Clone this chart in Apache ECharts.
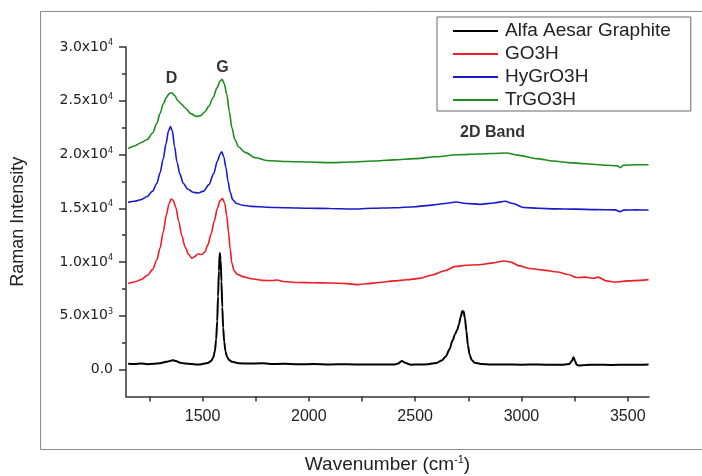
<!DOCTYPE html>
<html>
<head>
<meta charset="utf-8">
<script src="https://cdn.jsdelivr.net/npm/echarts@6/dist/echarts.min.js"></script>
<style>
html, body { margin: 0; padding: 0; background: #fff; }
#chart { width: 702px; height: 476px; }
</style>
</head>
<body>
<div id="chart"></div>
<script>
// spectra: [wavenumber, intensity]
var graphite = [[1150,540],[1180,520],[1210,560],[1240,510],[1270,540],[1300,600],[1330,720],[1350,820],[1362,860],[1375,800],[1395,650],[1420,560],[1450,520],[1470,470],[1490,480],[1510,560],[1525,620],[1540,800],[1550,1100],[1558,1700],[1564,2800],[1569,4500],[1573,6800],[1577,9200],[1581,10850],[1585,10200],[1589,8200],[1593,5800],[1597,3900],[1602,2600],[1608,1700],[1615,1200],[1625,900],[1640,720],[1670,600],[1720,560],[1780,600],[1820,520],[1880,540],[1950,500],[2020,520],[2100,480],[2180,500],[2260,470],[2330,480],[2400,470],[2420,560],[2437,800],[2455,620],[2480,460],[2520,470],[2560,500],[2600,620],[2625,850],[2645,1250],[2662,1900],[2676,2700],[2688,3300],[2698,3700],[2706,4200],[2714,4900],[2722,5450],[2728,5400],[2734,4800],[2741,3600],[2748,2300],[2756,1400],[2766,900],[2780,650],[2810,520],[2860,470],[2920,480],[3000,460],[3080,470],[3150,450],[3200,460],[3225,520],[3237,800],[3245,1150],[3252,800],[3260,450],[3270,380],[3300,440],[3360,450],[3420,440],[3500,460],[3560,450],[3598,470]];

var go3h = [[1150,8000],[1180,8150],[1210,8350],[1240,8750],[1265,9300],[1285,10200],[1300,11300],[1315,12800],[1330,14400],[1342,15400],[1352,15850],[1362,15750],[1374,15100],[1388,13800],[1402,12500],[1418,11400],[1435,10700],[1450,10350],[1462,10500],[1478,10750],[1495,10700],[1510,10900],[1525,11600],[1540,12600],[1555,13800],[1570,15000],[1582,15700],[1594,15900],[1604,15500],[1614,14300],[1622,12800],[1630,11200],[1638,9900],[1648,9200],[1665,8850],[1690,8650],[1730,8450],[1780,8300],[1830,8280],[1850,8330],[1880,8200],[1950,8100],[2020,8080],[2100,8050],[2180,8000],[2230,7900],[2270,7980],[2330,8100],[2400,8250],[2460,8350],[2520,8480],[2580,8800],[2640,9200],[2690,9600],[2740,9700],[2800,9750],[2860,9900],[2920,10100],[2950,10000],[2990,9650],[3040,9400],[3100,9250],[3170,9080],[3220,8850],[3260,8560],[3300,8600],[3340,8500],[3360,8600],[3400,8250],[3440,8150],[3500,8250],[3560,8300],[3598,8370]];

var hygro3h = [[1150,15550],[1180,15650],[1210,15800],[1240,16100],[1265,16600],[1285,17300],[1300,18300],[1315,19600],[1328,21000],[1340,22200],[1349,22600],[1358,22200],[1368,20800],[1380,19300],[1393,18200],[1410,17300],[1430,16800],[1455,16500],[1480,16420],[1505,16600],[1530,17200],[1552,18200],[1570,19400],[1582,20000],[1590,20250],[1600,19800],[1610,18800],[1620,17500],[1630,16500],[1642,15800],[1660,15450],[1690,15280],[1730,15180],[1800,15100],[1900,15050],[2000,15000],[2100,14980],[2200,14930],[2300,15000],[2400,15050],[2500,15150],[2580,15300],[2640,15450],[2693,15590],[2740,15450],[2806,15370],[2870,15500],[2924,15650],[2960,15450],[3010,15080],[3080,15000],[3160,14950],[3250,14920],[3350,14880],[3440,14850],[3465,14690],[3480,14830],[3540,14850],[3598,14840]];

var trgo3h = [[1150,20550],[1180,20800],[1210,21100],[1240,21400],[1265,22000],[1285,22900],[1300,23800],[1315,24700],[1330,25300],[1342,25650],[1355,25750],[1368,25500],[1385,25000],[1400,24700],[1420,24300],[1445,23800],[1470,23550],[1490,23600],[1510,23950],[1530,24500],[1550,25300],[1568,26200],[1582,26800],[1592,27000],[1602,26600],[1614,25600],[1626,24000],[1638,22500],[1652,21400],[1670,20700],[1700,20200],[1750,19700],[1800,19450],[1900,19350],[2000,19300],[2100,19250],[2200,19300],[2300,19400],[2400,19500],[2500,19620],[2600,19800],[2700,19980],[2800,20050],[2860,20100],[2930,20150],[2980,19950],[3070,19620],[3150,19400],[3220,19250],[3300,19150],[3400,19000],[3450,18950],[3465,18780],[3480,19000],[3540,19050],[3598,19050]];

var seriesNames = ['Alfa Aesar Graphite', 'GO3H', 'HyGrO3H', 'TrGO3H'];
var seriesColors = ['#000000', '#ee1c25', '#1a1acc', '#1e8c1e'];

var xTicks = [1250, 1500, 1750, 2000, 2250, 2500, 2750, 3000, 3250, 3500];
var xLabels = [1500, 2000, 2500, 3000, 3500];
var yLabels = [0, 5000, 10000, 15000, 20000, 25000, 30000];
var yMinorTicks = [2500, 7500, 12500, 17500, 22500, 27500];

// band labels: [wavenumber, intensity, text]
var bandLabels = [[1354, 27100, 'D'], [1594, 28100, 'G'], [2864, 22000, '2D Band']];

var axisColor = '#333';
var textColor = '#222';

function sciLabel(v) {
    if (v === 0) return '{m|0.0}';
    var e = Math.floor(Math.log10(v));
    var m = (v / Math.pow(10, e)).toFixed(1);
    return '{m|' + m + 'x10}{e|' + e + '}';
}

var spectra = [graphite, go3h, hygro3h, trgo3h];
var series = spectra.map(function(d, i) {
    return {
        name: seriesNames[i],
        type: 'line',
        data: d,
        showSymbol: false,
        symbol: 'none',
        smooth: 0.3,
        smoothMonotone: 'x',
        color: seriesColors[i],
        lineStyle: { width: i === 0 ? 2 : 1.6, color: seriesColors[i] }
    };
});

series.push({
    type: 'scatter',
    silent: true,
    symbolSize: 0,
    data: bandLabels.map(function(b) { return { value: [b[0], b[1]], name: b[2] }; }),
    label: {
        show: true,
        position: 'inside',
        formatter: '{b}',
        color: '#000',
        fontWeight: 'bold',
        fontSize: 16,
        fontFamily: 'Liberation Sans'
    }
});

var option = {
    animation: false,
    backgroundColor: '#fff',
    graphic: [{
        type: 'rect',
        shape: { x: 40.5, y: 11.5, width: 700, height: 438 },
        style: { fill: 'none', stroke: '#8c8c8c', lineWidth: 1 },
        z: 0
    }],
    legend: {
        data: seriesNames,
        orient: 'vertical',
        left: 437,
        top: 17,
        padding: [4, 20, 1, 16],
        itemGap: 3,
        itemWidth: 45,
        itemHeight: 2,
        icon: 'rect',
        borderColor: '#666',
        borderWidth: 1,
        textStyle: {
            fontSize: 19,
            lineHeight: 20,
            color: textColor,
            fontFamily: 'Liberation Sans',
            padding: [0, 0, 0, 2]
        }
    },
    grid: { left: 126, top: 47, right: 53, bottom: 79.5, containLabel: false, outerBoundsMode: 'none' },
    xAxis: {
        type: 'value',
        min: 1140,
        max: 3600,
        name: '{a|Wavenumber (cm}{s|-1}{a|)}',
        nameLocation: 'middle',
        nameGap: 58,
        nameTextStyle: {
            rich: {
                a: { fontSize: 19, fontFamily: 'Liberation Sans', color: textColor },
                s: { fontSize: 11, fontFamily: 'Liberation Sans', color: textColor, padding: [0, 0, 10, 0] }
            }
        },
        axisLine: { onZero: false, lineStyle: { color: axisColor, width: 1.5 } },
        axisTick: { customValues: xTicks, length: 5, lineStyle: { color: axisColor, width: 1.5 } },
        axisLabel: {
            customValues: xLabels,
            formatter: function(v) { return String(v); },
            fontSize: 16,
            margin: 12,
            color: textColor,
            fontFamily: 'Liberation Sans'
        },
        splitLine: { show: false }
    },
    yAxis: [{
        type: 'value',
        position: 'left',
        min: -2500,
        max: 30000,
        name: 'Raman Intensity',
        nameLocation: 'middle',
        nameGap: 99,
        nameTextStyle: { fontSize: 18, fontFamily: 'Liberation Sans', color: textColor },
        axisLine: { show: true, onZero: false, lineStyle: { color: axisColor, width: 1.5 } },
        axisTick: { customValues: yLabels, length: 7, lineStyle: { color: axisColor, width: 1.5 } },
        axisLabel: {
            customValues: yLabels,
            margin: 13,
            formatter: sciLabel,
            rich: {
                m: { fontSize: 14, fontFamily: 'DejaVu Sans', color: textColor },
                e: { fontSize: 8, fontFamily: 'DejaVu Sans', color: textColor, padding: [0, 0, 8, 0] }
            }
        },
        splitLine: { show: false }
    }, {
        type: 'value',
        position: 'left',
        min: -2500,
        max: 30000,
        axisLine: { show: false, onZero: false },
        axisTick: { customValues: yMinorTicks, length: 4, lineStyle: { color: axisColor, width: 1.5 } },
        axisLabel: { show: false },
        splitLine: { show: false }
    }],
    series: series
};

var chart = echarts.init(document.getElementById('chart'));
chart.setOption(option);
</script>
</body>
</html>
